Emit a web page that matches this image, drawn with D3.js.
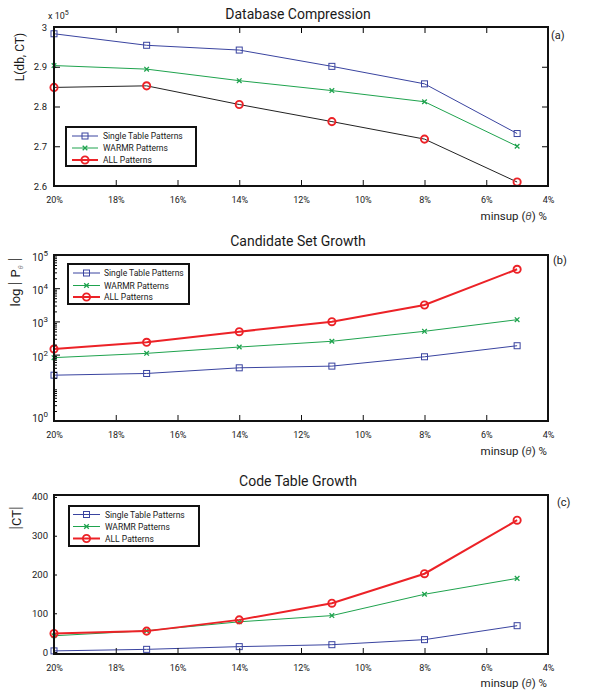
<!DOCTYPE html>
<html>
<head>
<meta charset="utf-8">
<script src="https://cdn.jsdelivr.net/npm/d3@7"></script>
<style>
  body { margin: 0; background: #fff; }
  svg text { font-family: Roboto, "Noto Sans", sans-serif; fill: #1a1a1a; }
</style>
</head>
<body>
<svg id="chart" width="592" height="695"></svg>
<script>
// minsup values on the x axis (reversed axis, 20% on the left)
const xTicks = [20, 18, 16, 14, 12, 10, 8, 6, 4];
const minsup = [20, 17, 14, 11, 8, 5];
const seriesNames = ["Single Table Patterns", "WARMR Patterns", "ALL Patterns"];

// (a) database compression, units of 10^5
const compTicks = [2.6, 2.7, 2.8, 2.9, 3];
const compSingle = [2.983, 2.954, 2.942, 2.901, 2.857, 2.732];
const compWarmr = [2.903, 2.894, 2.865, 2.840, 2.812, 2.700];
const compAll = [2.848, 2.852, 2.805, 2.762, 2.718, 2.610];

// (b) candidate set size (log)
const candTicks = [1, 1e2, 1e3, 1e4, 1e5];
const candSingle = [24, 27, 40, 45, 86, 185];
const candWarmr = [81, 109, 169, 252, 503, 1125];
const candAll = [147, 235, 490, 980, 3120, 37100];

// (c) code table size
const ctTicks = [0, 100, 200, 300, 400];
const ctSingle = [3, 7, 14, 19, 32, 68];
const ctWarmr = [42, 55, 78, 94, 149, 190];
const ctAll = [48, 54, 83, 126, 202, 340];

const BLUE = "#3a44a0", GREEN = "#1fa34e", RED = "#ec2227";
const LEFT = 54, RIGHT = 548;

const svg = d3.select("#chart");
const xScale = d3.scaleLinear().domain([20, 4]).range([LEFT, RIGHT]);

// marker helpers
function drawMarker(g, kind, x, y, color) {
  if (kind === "square") {
    g.append("rect").attr("x", x - 3).attr("y", y - 3).attr("width", 6).attr("height", 6)
      .attr("fill", "none").attr("stroke", color).attr("stroke-width", 1);
  } else if (kind === "x") {
    g.append("path").attr("d", `M${x-2.3},${y-2.3}L${x+2.3},${y+2.3}M${x-2.3},${y+2.3}L${x+2.3},${y-2.3}`)
      .attr("stroke", color).attr("stroke-width", 1.3);
  } else {
    g.append("circle").attr("cx", x).attr("cy", y).attr("r", 3.6)
      .attr("fill", "none").attr("stroke", color).attr("stroke-width", 1.9);
  }
}

function drawSeries(g, yScale, values, color, lineColor, width, kind) {
  const pts = minsup.map((m, i) => ({ m: m, v: values[i] }));
  const line = d3.line().x(d => xScale(d.m)).y(d => yScale(d.v));
  g.append("path").datum(pts).attr("d", line).attr("fill", "none")
    .attr("stroke", lineColor).attr("stroke-width", width);
  const mg = g.append("g");
  pts.forEach(d => drawMarker(mg, kind, xScale(d.m), yScale(d.v), color));
}

function drawLegend(box, rows, lineX0, lineX1, textX, redWidth) {
  svg.append("rect").attr("x", box[0]).attr("y", box[1]).attr("width", box[2]).attr("height", box[3])
    .attr("fill", "#fff").attr("stroke", "#111").attr("stroke-width", 2);
  const cols = [BLUE, GREEN, RED], kinds = ["square", "x", "circle"], widths = [1, 1, redWidth];
  seriesNames.forEach((name, i) => {
    const y = rows[i];
    svg.append("line").attr("x1", lineX0).attr("x2", lineX1).attr("y1", y).attr("y2", y)
      .attr("stroke", cols[i]).attr("stroke-width", widths[i]);
    drawMarker(svg, kinds[i], (lineX0 + lineX1) / 2, y, cols[i]);
    svg.append("text").attr("x", textX).attr("y", y + 3).attr("font-size", "8.5px").text(name);
  });
}

function bottomAxis(top, bottom, withTop) {
  const ax = d3.axisBottom(xScale).tickValues(xTicks).tickSize(-6).tickPadding(11)
    .tickFormat(d => d + "%");
  const g = svg.append("g").attr("transform", `translate(0,${bottom})`).call(ax);
  g.select(".domain").remove();
  g.selectAll("text").attr("font-size", "9px");
  g.selectAll(".tick line").attr("stroke", "#111");
  if (withTop) {
    const t = svg.append("g").attr("transform", `translate(0,${top})`)
      .call(d3.axisTop(xScale).tickValues(xTicks).tickSize(-6).tickFormat(""));
    t.select(".domain").remove();
  }
}

function frame(top, bottom) {
  svg.append("rect").attr("x", LEFT).attr("y", top).attr("width", RIGHT - LEFT).attr("height", bottom - top)
    .attr("fill", "none").attr("stroke", "#111").attr("stroke-width", 2);
}

function titles(title, titleY, letter, letterX, letterY, xLabelY) {
  svg.append("text").attr("x", 298).attr("y", titleY).attr("text-anchor", "middle")
    .attr("font-size", "14px").text(title);
  svg.append("text").attr("x", letterX).attr("y", letterY).attr("font-size", "11px").text(letter);
  const xl = svg.append("text").attr("x", 547).attr("y", xLabelY).attr("text-anchor", "end")
    .attr("font-size", "11.5px");
  xl.append("tspan").text("minsup (");
  xl.append("tspan").attr("font-style", "italic").attr("fill", "#555").text("θ");
  xl.append("tspan").text(") %");
}

// ---------- (a) Database Compression ----------
{
  const top = 27, bottom = 186;
  const y = d3.scaleLinear().domain([2.6, 3.0]).range([bottom, top]);
  const g = svg.append("g");
  drawSeries(g, y, compSingle, BLUE, BLUE, 1, "square");
  drawSeries(g, y, compWarmr, GREEN, GREEN, 1, "x");
  drawSeries(g, y, compAll, RED, "#222", 1, "circle");

  const ya = svg.append("g").attr("transform", `translate(${LEFT},0)`)
    .call(d3.axisLeft(y).tickValues(compTicks).tickSize(-6).tickPadding(7).tickFormat(d3.format("~g")));
  ya.select(".domain").remove();
  ya.selectAll("text").attr("font-size", "9.5px");
  const yr = svg.append("g").attr("transform", `translate(${RIGHT},0)`)
    .call(d3.axisRight(y).tickValues(compTicks).tickSize(-6).tickFormat(""));
  yr.select(".domain").remove();
  bottomAxis(top, bottom, true);
  frame(top, bottom);
  drawLegend([66, 127, 130, 39], [136, 148, 160], 72, 98, 103, 2);

  const m = svg.append("text").attr("x", 48).attr("y", 19).attr("font-size", "9px");
  m.append("tspan").text("x 10");
  m.append("tspan").attr("dy", -4).attr("font-size", "7px").text("5");
  svg.append("text").attr("transform", "translate(24,57) rotate(-90)").attr("text-anchor", "middle")
    .attr("font-size", "12px").text("L(db, CT)");
  titles("Database Compression", 19, "(a)", 551, 39, 220);
}

// ---------- (b) Candidate Set Growth ----------
{
  const top = 255, bottom = 421;
  const y = d3.scaleLog().domain([1, 1e5]).range([bottom, top]);
  const g = svg.append("g");
  drawSeries(g, y, candSingle, BLUE, BLUE, 1, "square");
  drawSeries(g, y, candWarmr, GREEN, GREEN, 1, "x");
  drawSeries(g, y, candAll, RED, RED, 2, "circle");

  const minors = [];
  for (let e = 0; e < 5; e++) for (let k = 2; k <= 9; k++) minors.push(k * Math.pow(10, e));
  const ym = svg.append("g").attr("transform", `translate(${LEFT},0)`)
    .call(d3.axisLeft(y).tickValues(minors).tickSize(-3).tickFormat(""));
  ym.select(".domain").remove();
  const ya = svg.append("g").attr("transform", `translate(${LEFT},0)`)
    .call(d3.axisLeft(y).tickValues(candTicks).tickSize(-6).tickFormat(""));
  ya.select(".domain").remove();
  candTicks.forEach(t => {
    const lab = svg.append("text").attr("x", LEFT - 6).attr("y", Math.min(y(t) + 6, bottom + 1))
      .attr("text-anchor", "end").attr("font-size", "10px");
    lab.append("tspan").text("10");
    lab.append("tspan").attr("dy", -5).attr("font-size", "8px").text(Math.round(Math.log10(t)));
  });
  bottomAxis(top, bottom, false);
  frame(top, bottom);
  drawLegend([68, 264, 121, 40], [273, 285.5, 297], 73, 100, 104, 2);

  const lab = svg.append("text").attr("transform", "translate(20,282) rotate(-90)")
    .attr("text-anchor", "middle").attr("font-size", "13px");
  lab.append("tspan").text("log ");
  lab.append("tspan").attr("font-size", "17px").attr("font-weight", "300").text(" | ");
  lab.append("tspan").text("P");
  lab.append("tspan").attr("dy", 3).attr("font-size", "7px").attr("fill", "#888").attr("font-style", "italic").text("θ");
  lab.append("tspan").attr("dy", -3).attr("font-size", "17px").attr("font-weight", "300").text(" |");
  titles("Candidate Set Growth", 246, "(b)", 553, 264, 455);
}

// ---------- (c) Code Table Growth ----------
{
  const top = 495, bottom = 654;
  const y = d3.scaleLinear().domain([-5, 405]).range([bottom, top]);
  const g = svg.append("g");
  drawSeries(g, y, ctSingle, BLUE, BLUE, 1, "square");
  drawSeries(g, y, ctWarmr, GREEN, GREEN, 1, "x");
  drawSeries(g, y, ctAll, RED, RED, 2, "circle");

  const ya = svg.append("g").attr("transform", `translate(${LEFT},0)`)
    .call(d3.axisLeft(y).tickValues(ctTicks).tickSize(-3).tickPadding(6));
  ya.select(".domain").remove();
  ya.selectAll("text").attr("font-size", "9.5px");
  bottomAxis(top, bottom, false);
  frame(top, bottom);
  drawLegend([69, 506, 130, 40], [514.5, 526.5, 538.5], 73, 100, 105, 2);

  const ct = svg.append("text").attr("transform", "translate(21,518) rotate(-90)").attr("text-anchor", "middle")
    .attr("font-size", "13px");
  ct.append("tspan").attr("font-size", "17px").attr("font-weight", "300").text("|");
  ct.append("tspan").text("CT");
  ct.append("tspan").attr("font-size", "17px").attr("font-weight", "300").text("|");
  titles("Code Table Growth", 486, "(c)", 557, 506, 687);
}
</script>
</body>
</html>
